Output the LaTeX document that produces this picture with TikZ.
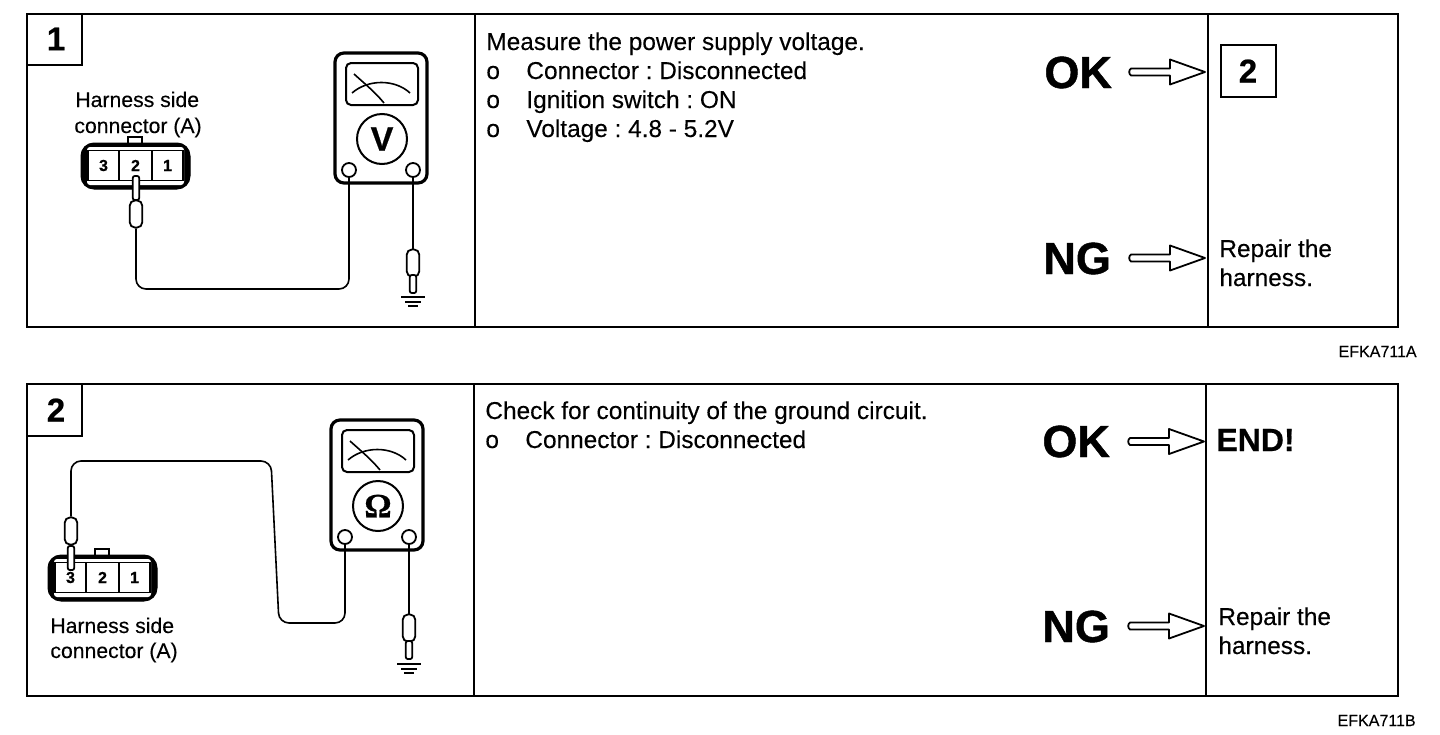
\documentclass[tikz,border=0pt]{standalone}
\usepackage{fontspec}
\setmainfont{Liberation Sans}[FakeBold=0.2]
\newfontfamily\omegafont{Liberation Serif}[BoldFeatures={FakeBold=0.5}]
\newfontfamily\heavywide{Liberation Sans}[BoldFeatures={FakeBold=1}]
\newfontfamily\heavy{Liberation Sans}[BoldFeatures={FakeBold=0.6}]
\usetikzlibrary{calc}
\tikzset{
  x=0.5pt,y=-0.5pt,
  frameline/.style={line width=1.1pt,draw=black},
  wire/.style={line width=0.8pt,rounded corners=5pt},
  body/.style={font=\fontsize{12.2}{14}\selectfont\frenchspacing,anchor=base west,inner sep=0pt},
  small/.style={font=\fontsize{10.6}{12}\selectfont,anchor=base west,inner sep=0pt},
  verdict/.style={font=\fontsize{22.5}{26}\heavywide\bfseries\selectfont,anchor=base west,inner sep=0pt},
  numbox/.style={draw,line width=1pt,font=\fontsize{16.5}{18}\heavy\bfseries\selectfont,inner sep=0pt,minimum width=27.5pt,minimum height=26pt},
  numtext/.style={font=\fontsize{16.5}{18}\heavy\bfseries\selectfont,inner sep=0pt},
  code/.style={font=\fontsize{8}{9}\selectfont,anchor=base east,inner sep=0pt},
  sleeve/.style={draw,line width=0.9pt,fill=white,rounded corners=2.5pt,minimum width=6.2pt,minimum height=13.5pt,inner sep=0pt},
  pin/.style={draw,line width=0.9pt,fill=white,rounded corners=1pt,minimum width=3.2pt,inner sep=0pt},
  terminal/.style={circle,draw,line width=0.9pt,fill=white,minimum size=7pt,inner sep=0pt},
  cell/.style={draw,line width=0.8pt,fill=white,minimum height=15pt,inner sep=0pt,font=\fontsize{8}{9}\heavy\bfseries\selectfont},
  meter/.pic={
    \node[draw,line width=1.6pt,rounded corners=4.5pt,minimum width=46pt,minimum height=65pt,inner sep=0pt] (-case) at (381,118) {};
    \node[draw,line width=1pt,rounded corners=2.5pt,minimum width=36pt,minimum height=21pt,inner sep=0pt] (-screen) at (382,84) {};
    \draw[line width=0.8pt] (354,74) .. controls (365,84) and (375,92) .. (384,103);
    \draw[line width=0.8pt] (352,93) .. controls (368,79) and (395,79) .. (410,93);
    \node[circle,draw,line width=1pt,minimum size=25pt,inner sep=0pt,font=\fontsize{17}{18}\heavy\bfseries\selectfont] (-dial) at (382,139) {#1};
    \node[terminal] (-t1) at (349,170) {};
    \node[terminal] (-t2) at (413,170) {};
  },
  harness/.pic={
    \node[draw,line width=0.9pt,fill=white,minimum width=7pt,minimum height=4pt,inner sep=0pt] (-tab) at (135,141) {};
    \node[draw,fill=black,line width=0.5pt,rounded corners=6.5pt,minimum width=54.5pt,minimum height=23pt,inner sep=0pt] (-shell) at (135.5,166) {};
    \node[fill=white,rounded corners=1.5pt,minimum width=48.5pt,minimum height=19pt,inner sep=0pt] (-inner) at (135.5,166) {};
    \node[cell,minimum width=15.5pt] (-c3) at (103.5,165.5) {3};
    \node[cell,minimum width=16.5pt] (-c2) at (135.5,165.5) {2};
    \node[cell,minimum width=15.5pt] (-c1) at (167.5,165.5) {1};
  },
  earth/.pic={
    \draw[line width=0.9pt] (-12,0) -- (12,0);
    \draw[line width=0.9pt] (-8,5) -- (8,5);
    \draw[line width=0.9pt] (-5,9) -- (5,9);
  },
  outarrow/.pic={
    \draw[line width=0.9pt,fill=white,line join=round] (2,-3.5) -- (41,-3.5) -- (41,-12.5) -- (76,0) -- (41,12.5) -- (41,3.5) -- (2,3.5) to[bend left=60] cycle;
  }
}
\begin{document}
\begin{tikzpicture}
\useasboundingbox (0,0) rectangle (1440,734);
\fill[white] (0,0) rectangle (1440,734);

% ---- panel 1
\node[frameline,draw,minimum width=685.5pt,minimum height=156.5pt,inner sep=0pt] (f1) at (712.5,170.5) {};
\draw[frameline] (475,14) -- (475,327);
\draw[frameline] (1208,14) -- (1208,327);
\draw[frameline] (27,65) -- (82,65) -- (82,14);
\node[numtext] (n1) at (56,39) {1};

\node[small] (h1a) at (75,107) {Harness side};
\node[small] (h1b) at (74,133) {connector (A)};
\pic (c1) at (0,0) {harness};
\pic (m1) at (0,0) {meter={V}};
\node[pin,minimum height=12pt] (q1) at (136,188) {};
\node[sleeve] (p1) at (136,214) {};
\coordinate (w1) at (349,289);
\draw[wire] (p1.south) |- (w1) -- (m1-t1.south);
\node[sleeve] (r1) at (413,263) {};
\node[pin,minimum height=9pt] (s1) at (413,284) {};
\draw[line width=0.8pt] (m1-t2.south) -- (r1.north);
\pic at (413,297) {earth};

\node[body] (t11) at (486,50) {Measure the power supply voltage.};
\node[body] (t12a) at (486,79) {o};
\node[body] (t12) at (526,79) {Connector : Disconnected};
\node[body] (t13a) at (486,108) {o};
\node[body] (t13) at (526,108) {Ignition switch : ON};
\node[body] (t14a) at (486,137) {o};
\node[body] (t14) at (526,137) {Voltage : 4.8 - 5.2V};

\node[verdict] (ok1) at (1044,88) {OK};
\node[verdict] (ng1) at (1043,274) {NG};
\pic at (1129,72) {outarrow};
\pic at (1129,258) {outarrow};
\node[numbox] (b2) at (1248,71) {2};
\node[body] (r11) at (1219,257) {Repair the};
\node[body] (r12) at (1219,286) {harness.};
\node[code] (e1) at (1417,357) {EFKA711A};

% ---- panel 2
\node[frameline,draw,minimum width=685.5pt,minimum height=156pt,inner sep=0pt] (f2) at (712.5,540) {};
\draw[frameline] (474,384) -- (474,696);
\draw[frameline] (1206,384) -- (1206,696);
\draw[frameline] (27,436) -- (82,436) -- (82,384);
\node[numtext] (n2) at (56,410) {2};

\node[small] (h2a) at (50,633) {Harness side};
\node[small] (h2b) at (50,658) {connector (A)};
\begin{scope}[shift={(-33,412)}]
\pic (c2) at (0,0) {harness};
\end{scope}
\begin{scope}[shift={(-4,367)}]
\pic (m2) at (0,0) {meter={\omegafont Ω}};
\end{scope}
\node[pin,minimum height=12pt] (q2) at (71,558) {};
\node[sleeve] (p2) at (71,531) {};
\coordinate (w2a) at (71,461);
\coordinate (w2b) at (271,461);
\coordinate (w2c) at (279,623);
\coordinate (w2d) at (345,623);
\draw[wire] (p2.north) -- (w2a) -- (w2b) -- (w2c) -- (w2d) -- (m2-t1.south);
\node[sleeve] (r2) at (409,628) {};
\node[pin,minimum height=9pt] (s2) at (409,650) {};
\draw[line width=0.8pt] (m2-t2.south) -- (r2.north);
\pic at (409,664) {earth};

\node[body] (t21) at (485,419) {Check for continuity of the ground circuit.};
\node[body] (t22a) at (485,448) {o};
\node[body] (t22) at (525,448) {Connector : Disconnected};

\node[verdict] (ok2) at (1042,457) {OK};
\node[verdict] (ng2) at (1042,642) {NG};
\pic at (1128,441.5) {outarrow};
\pic at (1128,626) {outarrow};
\node[anchor=base west,inner sep=0pt,font=\fontsize{16}{18}\heavy\bfseries\selectfont] (end) at (1216,451) {END!};
\node[body] (r21) at (1218,625) {Repair the};
\node[body] (r22) at (1218,654) {harness.};
\node[code] (e2) at (1416,726) {EFKA711B};
\end{tikzpicture}
\end{document}
